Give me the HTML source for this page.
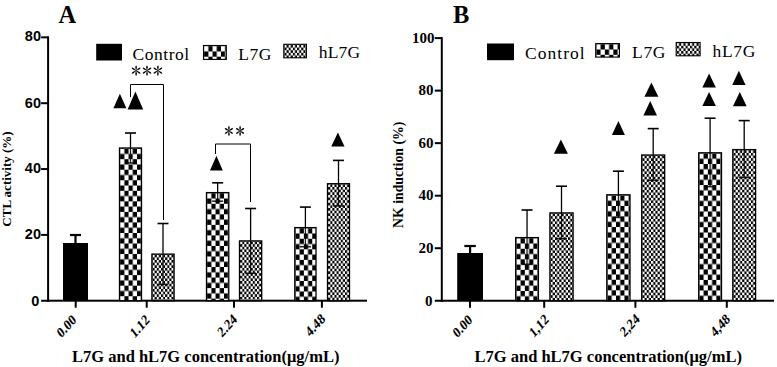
<!DOCTYPE html>
<html><head><meta charset="utf-8"><style>
html,body{margin:0;padding:0;background:#fff;width:777px;height:367px;overflow:hidden}
svg{display:block}
</style></head><body>
<svg width="777" height="367" viewBox="0 0 777 367">
<defs><pattern id="chkA" width="8.4" height="10.54" patternUnits="userSpaceOnUse" x="0.65" y="0.65"><rect width="8.4" height="10.54" fill="#fff"/><rect x="4.2" y="0" width="4.2" height="5.27" fill="#000"/><rect x="0" y="5.27" width="4.2" height="5.27" fill="#000"/></pattern><pattern id="fineA" width="4.2" height="5.27" patternUnits="userSpaceOnUse" x="0.65" y="0.65"><rect width="4.2" height="5.27" fill="#fff"/><rect x="2.1" y="0" width="2.1" height="2.63" fill="#000"/><rect x="0" y="2.63" width="2.1" height="2.63" fill="#000"/></pattern><pattern id="chkB" width="8.5" height="10.54" patternUnits="userSpaceOnUse" x="0.65" y="0.65"><rect width="8.5" height="10.54" fill="#fff"/><rect x="4.25" y="0" width="4.25" height="5.27" fill="#000"/><rect x="0" y="5.27" width="4.25" height="5.27" fill="#000"/></pattern><pattern id="fineB" width="4.36" height="5.27" patternUnits="userSpaceOnUse" x="0.65" y="0.65"><rect width="4.36" height="5.27" fill="#fff"/><rect x="2.18" y="0" width="2.18" height="2.63" fill="#000"/><rect x="0" y="2.63" width="2.18" height="2.63" fill="#000"/></pattern></defs>
<rect width="777" height="367" fill="#fff"/>
<rect x="47.1" y="36.35" width="2" height="265.35" fill="#000"/><rect x="47.1" y="299.7" width="319.9" height="2" fill="#000"/><rect x="41.1" y="36.35" width="7" height="2" fill="#000"/><text x="41" y="40.85" text-anchor="end" font-family='"Liberation Sans", sans-serif' font-weight="bold" font-size="14.5">80</text><rect x="41.1" y="102.2" width="7" height="2" fill="#000"/><text x="41" y="107.6" text-anchor="end" font-family='"Liberation Sans", sans-serif' font-weight="bold" font-size="14.5">60</text><rect x="41.1" y="168.05" width="7" height="2" fill="#000"/><text x="41" y="173.45" text-anchor="end" font-family='"Liberation Sans", sans-serif' font-weight="bold" font-size="14.5">40</text><rect x="41.1" y="233.9" width="7" height="2" fill="#000"/><text x="41" y="239.3" text-anchor="end" font-family='"Liberation Sans", sans-serif' font-weight="bold" font-size="14.5">20</text><rect x="41.1" y="299.75" width="7" height="2" fill="#000"/><text x="39.4" y="306.45" text-anchor="end" font-family='"Liberation Sans", sans-serif' font-weight="bold" font-size="14.5">0</text><rect x="74.7" y="300.7" width="2" height="7" fill="#000"/><text transform="translate(77,320.9) rotate(-48) skewX(-11)" text-anchor="end" font-family='"Liberation Serif", serif' font-weight="bold" font-size="13.5">0.00</text><rect x="145.7" y="300.7" width="2" height="7" fill="#000"/><text transform="translate(150.3,321.1) rotate(-48) skewX(-11)" text-anchor="end" font-family='"Liberation Serif", serif' font-weight="bold" font-size="13.5">1.12</text><rect x="233" y="300.7" width="2" height="7" fill="#000"/><text transform="translate(237.7,320.5) rotate(-48) skewX(-11)" text-anchor="end" font-family='"Liberation Serif", serif' font-weight="bold" font-size="13.5">2.24</text><rect x="320.9" y="300.7" width="2" height="7" fill="#000"/><text transform="translate(325.9,320) rotate(-48) skewX(-11)" text-anchor="end" font-family='"Liberation Serif", serif' font-weight="bold" font-size="13.5">4.48</text><rect x="63" y="243" width="25" height="57.7" fill="#000"/><g transform="translate(119.5,148)"><rect x="0" y="0" width="22" height="152.7" fill="url(#chkA)" stroke="#000" stroke-width="1.3"/></g><g transform="translate(151.9,254.1)"><rect x="0" y="0" width="22.2" height="46.6" fill="url(#fineA)" stroke="#000" stroke-width="1.3"/></g><g transform="translate(206.5,192.6)"><rect x="0" y="0" width="22.3" height="108.1" fill="url(#chkA)" stroke="#000" stroke-width="1.3"/></g><g transform="translate(239.5,240.9)"><rect x="0" y="0" width="22.2" height="59.8" fill="url(#fineA)" stroke="#000" stroke-width="1.3"/></g><g transform="translate(294.8,227.6)"><rect x="0" y="0" width="21.2" height="73.1" fill="url(#chkA)" stroke="#000" stroke-width="1.3"/></g><g transform="translate(327.5,183.7)"><rect x="0" y="0" width="22" height="117" fill="url(#fineA)" stroke="#000" stroke-width="1.3"/></g><line x1="75.5" y1="235" x2="75.5" y2="243" stroke="#000" stroke-width="2.2"/><line x1="70" y1="235" x2="81" y2="235" stroke="#000" stroke-width="2.2"/><line x1="130.5" y1="133" x2="130.5" y2="147.5" stroke="#000" stroke-width="1.3"/><line x1="125" y1="133" x2="136" y2="133" stroke="#000" stroke-width="1.6"/><line x1="130.5" y1="147.5" x2="130.5" y2="163" stroke="#000" stroke-width="1.3" opacity="0.85"/><line x1="125" y1="163" x2="136" y2="163" stroke="#000" stroke-width="1.6" opacity="0.85"/><line x1="163" y1="223.5" x2="163" y2="253.6" stroke="#000" stroke-width="1.3"/><line x1="157.5" y1="223.5" x2="168.5" y2="223.5" stroke="#000" stroke-width="1.6"/><line x1="163" y1="253.6" x2="163" y2="284.5" stroke="#000" stroke-width="1.3" opacity="0.85"/><line x1="157.5" y1="284.5" x2="168.5" y2="284.5" stroke="#000" stroke-width="1.6" opacity="0.85"/><line x1="217.65" y1="182.8" x2="217.65" y2="192.1" stroke="#000" stroke-width="1.3"/><line x1="212.15" y1="182.8" x2="223.15" y2="182.8" stroke="#000" stroke-width="1.6"/><line x1="217.65" y1="192.1" x2="217.65" y2="201.2" stroke="#000" stroke-width="1.3" opacity="0.85"/><line x1="212.15" y1="201.2" x2="223.15" y2="201.2" stroke="#000" stroke-width="1.6" opacity="0.85"/><line x1="250.6" y1="208.5" x2="250.6" y2="240.4" stroke="#000" stroke-width="1.3"/><line x1="245.1" y1="208.5" x2="256.1" y2="208.5" stroke="#000" stroke-width="1.6"/><line x1="250.6" y1="240.4" x2="250.6" y2="273.3" stroke="#000" stroke-width="1.3" opacity="0.85"/><line x1="245.1" y1="273.3" x2="256.1" y2="273.3" stroke="#000" stroke-width="1.6" opacity="0.85"/><line x1="305.4" y1="207.1" x2="305.4" y2="227.1" stroke="#000" stroke-width="1.3"/><line x1="299.9" y1="207.1" x2="310.9" y2="207.1" stroke="#000" stroke-width="1.6"/><line x1="305.4" y1="227.1" x2="305.4" y2="246.7" stroke="#000" stroke-width="1.3" opacity="0.85"/><line x1="299.9" y1="246.7" x2="310.9" y2="246.7" stroke="#000" stroke-width="1.6" opacity="0.85"/><line x1="338.5" y1="160.4" x2="338.5" y2="183.2" stroke="#000" stroke-width="1.3"/><line x1="333" y1="160.4" x2="344" y2="160.4" stroke="#000" stroke-width="1.6"/><line x1="338.5" y1="183.2" x2="338.5" y2="205.9" stroke="#000" stroke-width="1.3" opacity="0.85"/><line x1="333" y1="205.9" x2="344" y2="205.9" stroke="#000" stroke-width="1.6" opacity="0.85"/>
<rect x="440.8" y="37.1" width="2" height="264.65" fill="#000"/><rect x="440.8" y="299.75" width="333.2" height="2" fill="#000"/><rect x="434.8" y="37.1" width="7" height="2" fill="#000"/><text x="434.6" y="42.9" text-anchor="end" font-family='"Liberation Serif", serif' font-weight="bold" font-size="15">100</text><rect x="434.8" y="89.63" width="7" height="2" fill="#000"/><text x="433.6" y="95.43" text-anchor="end" font-family='"Liberation Serif", serif' font-weight="bold" font-size="15">80</text><rect x="434.8" y="142.16" width="7" height="2" fill="#000"/><text x="433.6" y="147.96" text-anchor="end" font-family='"Liberation Serif", serif' font-weight="bold" font-size="15">60</text><rect x="434.8" y="194.69" width="7" height="2" fill="#000"/><text x="433.6" y="200.49" text-anchor="end" font-family='"Liberation Serif", serif' font-weight="bold" font-size="15">40</text><rect x="434.8" y="247.22" width="7" height="2" fill="#000"/><text x="433.6" y="253.02" text-anchor="end" font-family='"Liberation Serif", serif' font-weight="bold" font-size="15">20</text><rect x="434.8" y="299.75" width="7" height="2" fill="#000"/><text x="432.5" y="305.95" text-anchor="end" font-family='"Liberation Serif", serif' font-weight="bold" font-size="15">0</text><rect x="469" y="300.75" width="2" height="7" fill="#000"/><text transform="translate(473,321) rotate(-48) skewX(-11)" text-anchor="end" font-family='"Liberation Serif", serif' font-weight="bold" font-size="13.5">0.00</text><rect x="543.2" y="300.75" width="2" height="7" fill="#000"/><text transform="translate(549.6,320.6) rotate(-48) skewX(-11)" text-anchor="end" font-family='"Liberation Serif", serif' font-weight="bold" font-size="13.5">1,12</text><rect x="634.4" y="300.75" width="2" height="7" fill="#000"/><text transform="translate(640.4,320.3) rotate(-48) skewX(-11)" text-anchor="end" font-family='"Liberation Serif", serif' font-weight="bold" font-size="13.5">2,24</text><rect x="725.8" y="300.75" width="2" height="7" fill="#000"/><text transform="translate(730.8,320.3) rotate(-48) skewX(-11)" text-anchor="end" font-family='"Liberation Serif", serif' font-weight="bold" font-size="13.5">4,48</text><rect x="457.2" y="253" width="25.8" height="47.75" fill="#000"/><g transform="translate(515.7,237.6)"><rect x="0" y="0" width="22.7" height="63.15" fill="url(#chkB)" stroke="#000" stroke-width="1.3"/></g><g transform="translate(549.9,212.9)"><rect x="0" y="0" width="23.2" height="87.85" fill="url(#fineB)" stroke="#000" stroke-width="1.3"/></g><g transform="translate(606.8,194.8)"><rect x="0" y="0" width="23.2" height="105.95" fill="url(#chkB)" stroke="#000" stroke-width="1.3"/></g><g transform="translate(641.7,155)"><rect x="0" y="0" width="23" height="145.75" fill="url(#fineB)" stroke="#000" stroke-width="1.3"/></g><g transform="translate(698.7,152.8)"><rect x="0" y="0" width="22.8" height="147.95" fill="url(#chkB)" stroke="#000" stroke-width="1.3"/></g><g transform="translate(732.8,149.6)"><rect x="0" y="0" width="22.8" height="151.15" fill="url(#fineB)" stroke="#000" stroke-width="1.3"/></g><line x1="470.1" y1="246" x2="470.1" y2="253" stroke="#000" stroke-width="2.2"/><line x1="464.35" y1="246" x2="475.85" y2="246" stroke="#000" stroke-width="2.2"/><line x1="527.05" y1="210" x2="527.05" y2="237.1" stroke="#000" stroke-width="1.3"/><line x1="521.55" y1="210" x2="532.55" y2="210" stroke="#000" stroke-width="1.6"/><line x1="527.05" y1="237.1" x2="527.05" y2="264.3" stroke="#000" stroke-width="1.3" opacity="0.85"/><line x1="521.55" y1="264.3" x2="532.55" y2="264.3" stroke="#000" stroke-width="1.6" opacity="0.85"/><line x1="561.5" y1="186.2" x2="561.5" y2="212.4" stroke="#000" stroke-width="1.3"/><line x1="556" y1="186.2" x2="567" y2="186.2" stroke="#000" stroke-width="1.6"/><line x1="561.5" y1="212.4" x2="561.5" y2="238.8" stroke="#000" stroke-width="1.3" opacity="0.85"/><line x1="556" y1="238.8" x2="567" y2="238.8" stroke="#000" stroke-width="1.6" opacity="0.85"/><line x1="618.4" y1="171.2" x2="618.4" y2="194.3" stroke="#000" stroke-width="1.3"/><line x1="612.9" y1="171.2" x2="623.9" y2="171.2" stroke="#000" stroke-width="1.6"/><line x1="618.4" y1="194.3" x2="618.4" y2="217.4" stroke="#000" stroke-width="1.3" opacity="0.85"/><line x1="612.9" y1="217.4" x2="623.9" y2="217.4" stroke="#000" stroke-width="1.6" opacity="0.85"/><line x1="653.2" y1="128.6" x2="653.2" y2="154.5" stroke="#000" stroke-width="1.3"/><line x1="647.7" y1="128.6" x2="658.7" y2="128.6" stroke="#000" stroke-width="1.6"/><line x1="653.2" y1="154.5" x2="653.2" y2="180.4" stroke="#000" stroke-width="1.3" opacity="0.85"/><line x1="647.7" y1="180.4" x2="658.7" y2="180.4" stroke="#000" stroke-width="1.6" opacity="0.85"/><line x1="710.1" y1="118.2" x2="710.1" y2="152.3" stroke="#000" stroke-width="1.3"/><line x1="704.6" y1="118.2" x2="715.6" y2="118.2" stroke="#000" stroke-width="1.6"/><line x1="710.1" y1="152.3" x2="710.1" y2="186.6" stroke="#000" stroke-width="1.3" opacity="0.85"/><line x1="704.6" y1="186.6" x2="715.6" y2="186.6" stroke="#000" stroke-width="1.6" opacity="0.85"/><line x1="744.2" y1="120.6" x2="744.2" y2="149.1" stroke="#000" stroke-width="1.3"/><line x1="738.7" y1="120.6" x2="749.7" y2="120.6" stroke="#000" stroke-width="1.6"/><line x1="744.2" y1="149.1" x2="744.2" y2="177.5" stroke="#000" stroke-width="1.3" opacity="0.85"/><line x1="738.7" y1="177.5" x2="749.7" y2="177.5" stroke="#000" stroke-width="1.6" opacity="0.85"/>
<text x="58.4" y="22.5" font-family='"Liberation Serif", serif' font-weight="bold" font-size="24.5">A</text>
<text x="453" y="22.7" font-family='"Liberation Serif", serif' font-weight="bold" font-size="24.5">B</text>
<text x="72" y="362" font-family='"Liberation Serif", serif' font-weight="bold" font-size="16.5">L7G and hL7G concentration(μg/mL)</text>
<text x="474.5" y="362" font-family='"Liberation Serif", serif' font-weight="bold" font-size="16.5">L7G and hL7G concentration(μg/mL)</text>
<text transform="translate(11,179) rotate(-90)" text-anchor="middle" font-family='"Liberation Serif", serif' font-weight="bold" font-size="13">CTL activity (%)</text>
<text transform="translate(403,174.8) rotate(-90)" text-anchor="middle" font-family='"Liberation Serif", serif' font-weight="bold" font-size="13.75">NK induction (%)</text>
<rect x="96.2" y="43.8" width="25.8" height="16.7" fill="#000"/>
<g transform="translate(203.5,45.5)"><rect x="0" y="0" width="22.8" height="13.9" fill="url(#chkA)" stroke="#000" stroke-width="1.1"/></g>
<g transform="translate(283.8,44.3)"><rect x="0" y="0" width="22.6" height="13.5" fill="url(#fineA)" stroke="#000" stroke-width="1.1"/></g>
<text x="132.6" y="59.7" font-family='"Liberation Serif", serif' font-size="17.5" letter-spacing="0.5">Control</text>
<text x="238.3" y="59.9" font-family='"Liberation Serif", serif' font-size="17.5" letter-spacing="0.5">L7G</text>
<text x="318.7" y="58.3" font-family='"Liberation Serif", serif' font-size="17.5" letter-spacing="0.2">hL7G</text>
<rect x="487" y="43.5" width="27" height="16.7" fill="#000"/>
<g transform="translate(595.7,43.6)"><rect x="0" y="0" width="23.7" height="13.5" fill="url(#chkB)" stroke="#000" stroke-width="1.1"/></g>
<g transform="translate(676.2,42.5)"><rect x="0" y="0" width="23.9" height="13.3" fill="url(#fineB)" stroke="#000" stroke-width="1.1"/></g>
<text x="525.1" y="58.8" font-family='"Liberation Serif", serif' font-size="17.5" letter-spacing="1">Control</text>
<text x="632.1" y="57.9" font-family='"Liberation Serif", serif' font-size="17.5" letter-spacing="0.6">L7G</text>
<text x="712.5" y="56.6" font-family='"Liberation Serif", serif' font-size="17.5" letter-spacing="0.7">hL7G</text>
<polygon points="113.4,108.2 126.4,108.2 119.9,93.7" fill="#000"/>
<polygon points="127.6,109.4 143.2,109.4 135.4,91.4" fill="#000"/>
<polyline points="130.5,97 130.5,84.5 163.5,84.5 163.5,220" fill="none" stroke="#000" stroke-width="1"/>
<g transform="translate(136.1,70.6)"><path d="M -0.18,0 L -0.78,-3.16 Q -0.78,-5.1 0,-5.1 Q 0.78,-5.1 0.78,-3.16 L 0.18,0 Z" transform="rotate(0)" fill="#000"/><path d="M -0.18,0 L -0.78,-3.16 Q -0.78,-5.1 0,-5.1 Q 0.78,-5.1 0.78,-3.16 L 0.18,0 Z" transform="rotate(57)" fill="#000"/><path d="M -0.18,0 L -0.78,-3.16 Q -0.78,-5.1 0,-5.1 Q 0.78,-5.1 0.78,-3.16 L 0.18,0 Z" transform="rotate(123)" fill="#000"/><path d="M -0.18,0 L -0.78,-3.16 Q -0.78,-5.1 0,-5.1 Q 0.78,-5.1 0.78,-3.16 L 0.18,0 Z" transform="rotate(180)" fill="#000"/><path d="M -0.18,0 L -0.78,-3.16 Q -0.78,-5.1 0,-5.1 Q 0.78,-5.1 0.78,-3.16 L 0.18,0 Z" transform="rotate(237)" fill="#000"/><path d="M -0.18,0 L -0.78,-3.16 Q -0.78,-5.1 0,-5.1 Q 0.78,-5.1 0.78,-3.16 L 0.18,0 Z" transform="rotate(303)" fill="#000"/></g><g transform="translate(147,70.6)"><path d="M -0.18,0 L -0.78,-3.16 Q -0.78,-5.1 0,-5.1 Q 0.78,-5.1 0.78,-3.16 L 0.18,0 Z" transform="rotate(0)" fill="#000"/><path d="M -0.18,0 L -0.78,-3.16 Q -0.78,-5.1 0,-5.1 Q 0.78,-5.1 0.78,-3.16 L 0.18,0 Z" transform="rotate(57)" fill="#000"/><path d="M -0.18,0 L -0.78,-3.16 Q -0.78,-5.1 0,-5.1 Q 0.78,-5.1 0.78,-3.16 L 0.18,0 Z" transform="rotate(123)" fill="#000"/><path d="M -0.18,0 L -0.78,-3.16 Q -0.78,-5.1 0,-5.1 Q 0.78,-5.1 0.78,-3.16 L 0.18,0 Z" transform="rotate(180)" fill="#000"/><path d="M -0.18,0 L -0.78,-3.16 Q -0.78,-5.1 0,-5.1 Q 0.78,-5.1 0.78,-3.16 L 0.18,0 Z" transform="rotate(237)" fill="#000"/><path d="M -0.18,0 L -0.78,-3.16 Q -0.78,-5.1 0,-5.1 Q 0.78,-5.1 0.78,-3.16 L 0.18,0 Z" transform="rotate(303)" fill="#000"/></g><g transform="translate(157.9,70.6)"><path d="M -0.18,0 L -0.78,-3.16 Q -0.78,-5.1 0,-5.1 Q 0.78,-5.1 0.78,-3.16 L 0.18,0 Z" transform="rotate(0)" fill="#000"/><path d="M -0.18,0 L -0.78,-3.16 Q -0.78,-5.1 0,-5.1 Q 0.78,-5.1 0.78,-3.16 L 0.18,0 Z" transform="rotate(57)" fill="#000"/><path d="M -0.18,0 L -0.78,-3.16 Q -0.78,-5.1 0,-5.1 Q 0.78,-5.1 0.78,-3.16 L 0.18,0 Z" transform="rotate(123)" fill="#000"/><path d="M -0.18,0 L -0.78,-3.16 Q -0.78,-5.1 0,-5.1 Q 0.78,-5.1 0.78,-3.16 L 0.18,0 Z" transform="rotate(180)" fill="#000"/><path d="M -0.18,0 L -0.78,-3.16 Q -0.78,-5.1 0,-5.1 Q 0.78,-5.1 0.78,-3.16 L 0.18,0 Z" transform="rotate(237)" fill="#000"/><path d="M -0.18,0 L -0.78,-3.16 Q -0.78,-5.1 0,-5.1 Q 0.78,-5.1 0.78,-3.16 L 0.18,0 Z" transform="rotate(303)" fill="#000"/></g>
<polygon points="210,170.6 222.8,170.6 216.4,155.8" fill="#000"/>
<polyline points="215.5,154 215.5,144 250.5,144 250.5,202" fill="none" stroke="#000" stroke-width="1"/>
<g transform="translate(228.9,130.9)"><path d="M -0.18,0 L -0.78,-3.01 Q -0.78,-4.85 0,-4.85 Q 0.78,-4.85 0.78,-3.01 L 0.18,0 Z" transform="rotate(0)" fill="#000"/><path d="M -0.18,0 L -0.78,-3.01 Q -0.78,-4.85 0,-4.85 Q 0.78,-4.85 0.78,-3.01 L 0.18,0 Z" transform="rotate(57)" fill="#000"/><path d="M -0.18,0 L -0.78,-3.01 Q -0.78,-4.85 0,-4.85 Q 0.78,-4.85 0.78,-3.01 L 0.18,0 Z" transform="rotate(123)" fill="#000"/><path d="M -0.18,0 L -0.78,-3.01 Q -0.78,-4.85 0,-4.85 Q 0.78,-4.85 0.78,-3.01 L 0.18,0 Z" transform="rotate(180)" fill="#000"/><path d="M -0.18,0 L -0.78,-3.01 Q -0.78,-4.85 0,-4.85 Q 0.78,-4.85 0.78,-3.01 L 0.18,0 Z" transform="rotate(237)" fill="#000"/><path d="M -0.18,0 L -0.78,-3.01 Q -0.78,-4.85 0,-4.85 Q 0.78,-4.85 0.78,-3.01 L 0.18,0 Z" transform="rotate(303)" fill="#000"/></g><g transform="translate(240.1,130.9)"><path d="M -0.18,0 L -0.78,-3.01 Q -0.78,-4.85 0,-4.85 Q 0.78,-4.85 0.78,-3.01 L 0.18,0 Z" transform="rotate(0)" fill="#000"/><path d="M -0.18,0 L -0.78,-3.01 Q -0.78,-4.85 0,-4.85 Q 0.78,-4.85 0.78,-3.01 L 0.18,0 Z" transform="rotate(57)" fill="#000"/><path d="M -0.18,0 L -0.78,-3.01 Q -0.78,-4.85 0,-4.85 Q 0.78,-4.85 0.78,-3.01 L 0.18,0 Z" transform="rotate(123)" fill="#000"/><path d="M -0.18,0 L -0.78,-3.01 Q -0.78,-4.85 0,-4.85 Q 0.78,-4.85 0.78,-3.01 L 0.18,0 Z" transform="rotate(180)" fill="#000"/><path d="M -0.18,0 L -0.78,-3.01 Q -0.78,-4.85 0,-4.85 Q 0.78,-4.85 0.78,-3.01 L 0.18,0 Z" transform="rotate(237)" fill="#000"/><path d="M -0.18,0 L -0.78,-3.01 Q -0.78,-4.85 0,-4.85 Q 0.78,-4.85 0.78,-3.01 L 0.18,0 Z" transform="rotate(303)" fill="#000"/></g>
<polygon points="331.25,146.6 344.55,146.6 337.9,132.4" fill="#000"/>
<polygon points="553.9,153.8 567.9,153.8 560.9,139.5" fill="#000"/>
<polygon points="611.9,135 624.9,135 618.4,120.9" fill="#000"/>
<polygon points="644.4,96.8 658.4,96.8 651.4,82.5" fill="#000"/>
<polygon points="643.4,115.5 657,115.5 650.2,100.9" fill="#000"/>
<polygon points="702.35,87.4 715.85,87.4 709.1,73.5" fill="#000"/>
<polygon points="702.35,105.9 715.85,105.9 709.1,92" fill="#000"/>
<polygon points="732.2,84.9 745.6,84.9 738.9,70.7" fill="#000"/>
<polygon points="732.95,106.2 746.65,106.2 739.8,92" fill="#000"/>
</svg>
</body></html>
